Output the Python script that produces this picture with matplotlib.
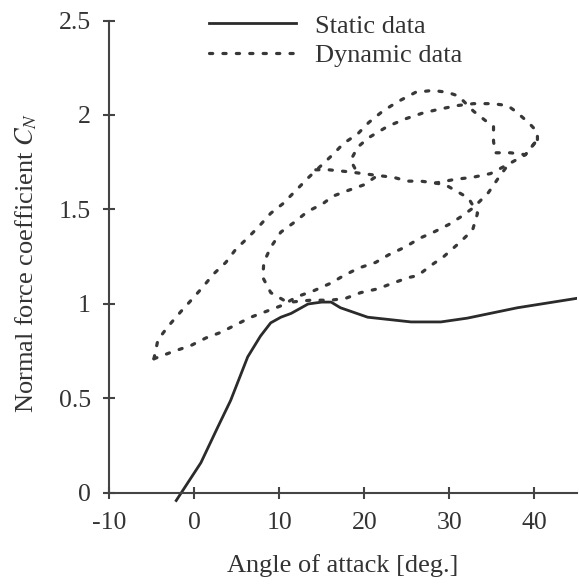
import numpy as np
import matplotlib
matplotlib.use("Agg")
import matplotlib.pyplot as plt

plt.rcParams['font.family'] = ['Liberation Serif', 'DejaVu Serif']
plt.rcParams['mathtext.fontset'] = 'stix'

# static curve
static_alpha = [-2.1, 0.8, 2.8, 4.3, 6.3, 7.8, 9.0, 10.2, 11.4, 13.4, 15.0, 16.1, 17.2,
                20.4, 25.5, 29.0, 32.1, 38.0, 45.0]
static_cn = [-0.04, 0.16, 0.35, 0.49, 0.72, 0.83, 0.90, 0.93, 0.95, 1.00, 1.01, 1.01, 0.98,
             0.93, 0.905, 0.905, 0.925, 0.98, 1.03]

# dynamic data, traced branch by branch
# outer upper branch (upstroke of big loop)
dyn_up_alpha = [-4.72, -4.25, -3.08, -1.55, -0.14, 1.03, 2.32, 3.73, 4.91, 6.31,
                7.61, 9.01, 10.42, 11.95, 13.47, 14.88, 16.29, 17.58, 19.23, 20.52,
                22.16, 23.92, 26.03, 28.03, 29.79, 31.08, 32.84, 34.25, 35.19, 35.19,
                35.42, 37.18, 38.94, 40.35]
dyn_up_cn = [0.71, 0.81, 0.88, 0.96, 1.03, 1.09, 1.16, 1.22, 1.29, 1.35,
             1.41, 1.48, 1.53, 1.60, 1.67, 1.73, 1.79, 1.85, 1.90, 1.96,
             2.02, 2.07, 2.12, 2.13, 2.12, 2.10, 2.02, 1.97, 1.94, 1.86,
             1.80, 1.80, 1.79, 1.87]

# second upper branch coming back from the tip
dyn_top_alpha = [40.35, 40.35, 39.30, 37.77, 36.83, 35.07, 32.84, 30.96, 28.73,
                 26.85, 24.86, 22.75, 20.52, 19.23, 18.40, 18.99]
dyn_top_cn = [1.87, 1.91, 1.96, 2.02, 2.05, 2.06, 2.06, 2.05, 2.03,
              2.01, 1.98, 1.94, 1.88, 1.83, 1.76, 1.71]

# middle branch
dyn_mid_alpha = [14.30, 15.82, 18.05, 19.81, 21.57, 23.45, 25.09, 26.62, 28.38,
                 30.73, 32.72, 34.84, 36.95, 38.94, 40.35]
dyn_mid_cn = [1.71, 1.71, 1.70, 1.69, 1.68, 1.67, 1.65, 1.65, 1.64,
              1.66, 1.67, 1.69, 1.74, 1.79, 1.87]

# inner loop (down from middle, around left end and back up)
dyn_in_alpha = [28.38, 29.55, 30.73, 32.25, 33.31, 32.72, 31.08, 29.32, 28.03,
                26.27, 25.21, 23.33, 21.57, 19.58, 17.82, 16.06, 13.71, 11.36,
                10.54, 9.01, 8.08, 8.19, 9.01, 10.19, 11.71, 13.36, 15.12, 16.29,
                18.05, 19.93, 21.57]
dyn_in_cn = [1.64, 1.63, 1.60, 1.56, 1.48, 1.39, 1.32, 1.25, 1.21,
             1.15, 1.14, 1.11, 1.08, 1.06, 1.03, 1.02, 1.02, 1.01,
             1.02, 1.06, 1.14, 1.22, 1.30, 1.38, 1.43, 1.49, 1.53, 1.57,
             1.60, 1.63, 1.68]

# outer lower branch
dyn_low_alpha = [-4.72, -2.37, -0.38, 1.38, 3.15, 4.91, 6.67, 8.43, 10.19, 12.18,
                 14.06, 16.06, 17.58, 19.34, 21.34, 22.86, 24.74, 26.62, 28.15,
                 29.91, 31.31, 32.84, 34.60, 35.66, 36.95]
dyn_low_cn = [0.71, 0.75, 0.78, 0.82, 0.85, 0.89, 0.93, 0.96, 0.99, 1.04,
              1.07, 1.11, 1.15, 1.19, 1.22, 1.26, 1.30, 1.35, 1.38,
              1.42, 1.46, 1.51, 1.59, 1.66, 1.74]

fig = plt.figure(figsize=(5.79, 5.86), dpi=100)
ax = fig.add_axes([109 / 579, (586 - 504.3) / 586, (577 - 109) / 579, (504.3 - 20.5) / 586])

ink = '#2b2b2b'
dot_style = dict(color='#383838', lw=2.3, linestyle=(0, (1.0, 3.2)),
                 dash_capstyle='round')

ax.plot(static_alpha, static_cn, color=ink, lw=2.0, label='Static data')
ax.plot(dyn_up_alpha, dyn_up_cn, label='Dynamic data', **dot_style)
ax.plot(dyn_top_alpha, dyn_top_cn, **dot_style)
ax.plot(dyn_mid_alpha, dyn_mid_cn, **dot_style)
ax.plot(dyn_in_alpha, dyn_in_cn, **dot_style)
ax.plot(dyn_low_alpha, dyn_low_cn, **dot_style)

ax.set_xlim(-10, 45)
ax.set_ylim(-0.06, 2.5)
ax.spines['top'].set_visible(False)
ax.spines['right'].set_visible(False)
ax.spines['bottom'].set_position(('data', 0))
ax.spines['left'].set_bounds(0, 2.5)
for s in ['left', 'bottom']:
    ax.spines[s].set_linewidth(1.5)
    ax.spines[s].set_color('#444444')

ax.set_xticks([-10, 0, 10, 20, 30, 40])
ax.set_xticklabels(['-10', '0', '10', '20', '30', '40'])
ax.set_yticks([0, 0.5, 1, 1.5, 2, 2.5])
ax.set_yticklabels(['0', '0.5', '1', '1.5', '2', '2.5'])
ax.tick_params(direction='inout', length=8, width=1.5, color='#444444',
               labelsize=18.5, labelcolor='#333333')
ax.tick_params(axis='x', pad=10)
ax.tick_params(axis='y', pad=9)

ax.set_xlabel('Angle of attack [deg.]', fontsize=19, color='#333333', labelpad=14)
ax.set_ylabel(r'Normal force coefficient $C_N$', fontsize=19, color='#333333', labelpad=14)

ax.legend(loc='upper left', bbox_to_anchor=(196 / 579, 1 - 1 / 586),
          bbox_transform=fig.transFigure, frameon=False, fontsize=19,
          handlelength=3.3, handletextpad=0.7, labelspacing=0.24, borderpad=0,
          labelcolor='#333333')

fig.savefig('out.png', dpi=100)
